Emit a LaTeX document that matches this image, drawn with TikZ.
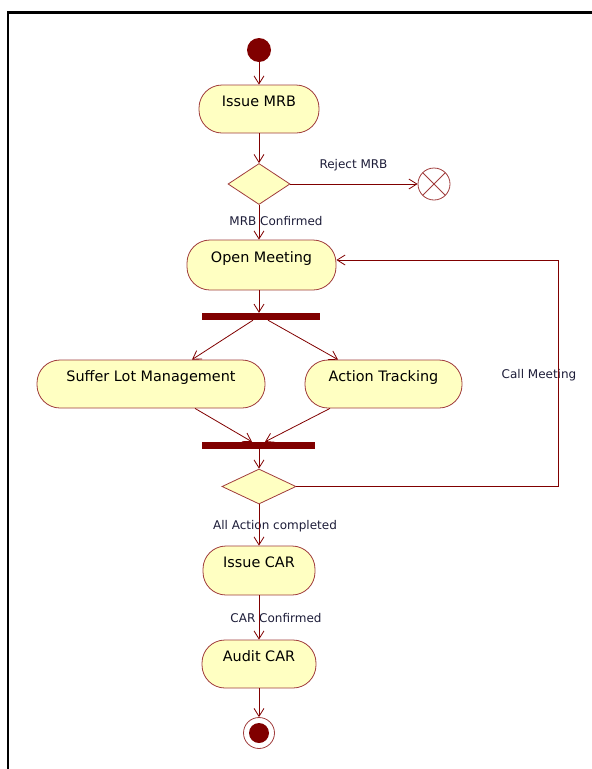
\documentclass[tikz,border=0pt]{standalone}
\usepackage{fontspec}
\setmainfont{DejaVu Sans}
\usetikzlibrary{shapes.geometric,arrows.meta}
\definecolor{flowred}{HTML}{800000}
\definecolor{edgered}{HTML}{A03C3C}
\definecolor{actfill}{HTML}{FFFFC2}
\definecolor{labelink}{HTML}{1C1C38}
\tikzset{
  act/.style={draw=edgered, fill=actfill, line width=0.8pt, rounded corners=23pt,
    inner xsep=0pt, inner ysep=0pt, minimum height=48pt,
    text height=21.5pt, text depth=26.5pt, font=\fontsize{14.4}{16}\selectfont},
  choice/.style={shape=diamond, draw=edgered, fill=actfill, line width=0.8pt,
    inner sep=0pt},
  syncbar/.style={rectangle, fill=flowred, draw=none, inner sep=0pt,
    minimum height=7pt},
  flow/.style={draw=flowred, line width=0.8pt,
    -{Straight Barb[length=8pt,width=10pt,line width=0.8pt]}},
  guard/.style={text=labelink, inner sep=0pt, font=\fontsize{12}{14}\selectfont},
}
\begin{document}
\begin{tikzpicture}[x=1pt, y=-1pt]
\useasboundingbox (0,0) rectangle (592,769);
% window frame
\draw[line width=2.2pt] (8,769) -- (8,12.5) -- (592,12.5);

% nodes
\node[circle, fill=flowred, inner sep=0pt, minimum size=24pt] (start) at (259,50) {};
\node[act, minimum width=120pt] (mrb) at (259,109) {Issue MRB};
\node[choice, minimum width=62pt, minimum height=41pt] (d1) at (259,184) {};
\node[circle, draw=edgered, fill=white, line width=0.8pt, inner sep=0pt, minimum size=32pt,
  path picture={\draw[edgered, line width=0.8pt]
    (path picture bounding box.north west) -- (path picture bounding box.south east)
    (path picture bounding box.north east) -- (path picture bounding box.south west);}]
  (ff) at (434,184) {};
\node[act, minimum width=149pt, minimum height=50pt, text height=22pt, text depth=28pt]
  (open) at (261.5,265) {Open Meeting};
\node[syncbar, minimum width=118pt] (fork) at (261,316.5) {};
\node[act, minimum width=228pt] (suffer) at (151,384) {Suffer Lot Management};
\node[act, minimum width=157pt] (track) at (383.5,384) {Action Tracking};
\node[syncbar, minimum width=113pt] (join) at (258.5,445.5) {};
\node[choice, minimum width=74pt, minimum height=35pt] (d2) at (259,486.5) {};
\node[act, minimum width=112pt, minimum height=49pt, text depth=27.5pt] (car) at (259,570.5) {Issue CAR};
\node[act, minimum width=114pt] (audit) at (259,664) {Audit CAR};
\node[circle, draw=edgered, fill=white, line width=0.8pt, inner sep=0pt, minimum size=31pt] (final) at (259,733) {};
\node[circle, fill=flowred, inner sep=0pt, minimum size=20pt] (finaldot) at (259,733) {};

% guard labels
\node[guard] (lreject) at (353.5,165) {Reject MRB};
\node[guard] (lmrb) at (276,221.5) {MRB Confirmed};
\node[guard] (lcall) at (539,375) {Call Meeting};
\node[guard] (lall) at (275,526) {All Action completed};
\node[guard] (lcar) at (276,618) {CAR Confirmed};

% control flows
\draw[flow] (start) -- (mrb);
\draw[flow] (mrb) -- (d1);
\draw[flow] (d1) -- (ff);
\draw[flow] (d1.south) -- (d1.south |- open.north);
\draw[flow] (open.south -| d1.south) -- (d1.south |- fork.north);
\draw[flow] ([xshift=-8pt]fork.south) -- ([xshift=41pt]suffer.north);
\draw[flow] ([xshift=7pt]fork.south) -- ([xshift=-45.5pt]track.north);
\draw[flow] ([xshift=44pt]suffer.south) -- ([xshift=-6.5pt]join.north);
\draw[flow] ([xshift=-53.5pt]track.south) -- ([xshift=6.5pt]join.north);
\draw[flow] (join.south -| d2.north) -- (d2.north);
\draw[flow] (d2) -- (car);
\draw[flow] (car) -- (audit);
\draw[flow] (audit) -- (final);
\coordinate (loopcorner) at (558,260);
\draw[flow] (d2.east) -| (loopcorner) -- ([yshift=5pt]open.east);
\end{tikzpicture}
\end{document}
